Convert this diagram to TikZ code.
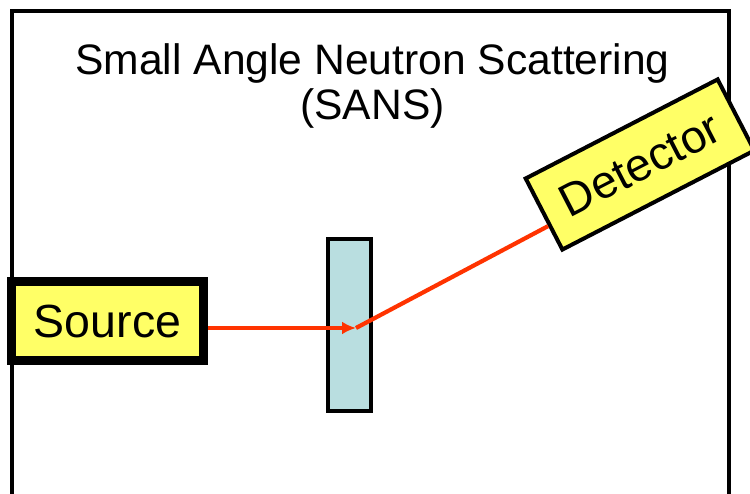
\documentclass[tikz,border=0pt]{standalone}
\usepackage{fontspec}
\setmainfont{Liberation Sans}
\usetikzlibrary{arrows.meta,calc}
\begin{document}
\begin{tikzpicture}[x=1pt,y=-1pt,
  frame/.style={draw=black,line width=4pt},
  yellowbox/.style={draw=black,fill={rgb,255:red,255;green,255;blue,102},inner sep=0pt},
  samplebox/.style={draw=black,line width=3.5pt,fill={rgb,255:red,185;green,222;blue,224},inner sep=0pt,minimum width=43pt,minimum height=172pt},
  beam/.style={draw={rgb,255:red,255;green,51;blue,0},line width=4.2pt},
  title/.style={font=\fontsize{42.6}{45}\selectfont,align=center}]
\useasboundingbox (0,0) rectangle (750,494);
\clip (0,0) rectangle (750,494);
\fill[white] (0,0) rectangle (750,494);
% instrument enclosure (bottom edge lies below the visible area)
\draw[frame] (12,11) rectangle (729,520);
% heading
\node[title,anchor=base] (t1) at (372.5,75) {Small Angle Neutron Scattering};
\node[title,anchor=base] (t2) at (372.5,120) {(SANS)};
% sample, source and detector
\node[samplebox] (sample) at (349.5,325) {};
\node[yellowbox,line width=9pt,minimum width=192pt,minimum height=79pt,
      font=\fontsize{46.5}{46.5}\selectfont,text depth=0pt,text height=33pt] (source) at (107.5,321) {Source};
\node[yellowbox,line width=4pt,minimum width=216pt,minimum height=80pt,rotate=27.3,
      font=\fontsize{46}{46}\selectfont] (detector) at (640,164.5) {Detector};
% neutron beam: incident and scattered
\coordinate (hit) at (356,328);
\draw[beam,-{Latex[length=14pt,width=13pt]}] (source.east |- hit) -- (hit);
\draw[beam] (hit) -- ($(detector.west)!0.3!(detector.south west)$);
\end{tikzpicture}
\end{document}
